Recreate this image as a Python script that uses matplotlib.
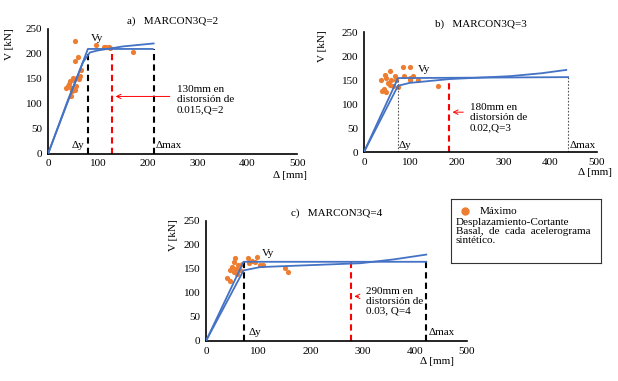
import matplotlib.pyplot as plt
from matplotlib.lines import Line2D

plt.rcParams['font.family'] = ['Liberation Serif', 'DejaVu Serif']
plt.rcParams['font.size'] = 8

BLUE = '#4472C4'
ORANGE = '#ED7D31'

# panel a) MARCON3Q=2
a_bil_x = [0, 80, 210]
a_bil_y = [0, 210, 210]
a_cur_x = [0, 40, 70, 84, 100, 150, 212]
a_cur_y = [0, 108, 183, 203, 207, 215, 221]
a_pts_x = [54, 97, 112, 117, 122, 125, 170, 60, 54, 67, 64, 58, 50, 44, 40, 47, 37, 54, 47, 57, 43, 52, 48, 62]
a_pts_y = [225, 217, 214, 213, 214, 212, 203, 193, 185, 168, 155, 152, 152, 145, 135, 132, 132, 128, 115, 135, 140, 148, 125, 150]
a_dy, a_dmax, a_red = 80, 212, 128

# panel b) MARCON3Q=3
b_bil_x = [0, 73, 438]
b_bil_y = [0, 154, 156]
b_cur_x = [0, 73, 98, 184, 313, 380, 434]
b_cur_y = [0, 138, 144, 152, 158, 164, 171]
b_pts_x = [55, 66, 48, 59, 37, 68, 52, 62, 42, 48, 39, 84, 99, 86, 98, 105, 116, 98, 159, 73, 55, 44]
b_pts_y = [169, 159, 154, 151, 151, 151, 144, 137, 131, 126, 128, 177, 177, 158, 154, 158, 151, 151, 138, 135, 140, 161]
b_dy, b_dmax, b_red = 73, 438, 182

# panel c) MARCON3Q=4
c_bil_x = [0, 72, 422]
c_bil_y = [0, 165, 165]
c_cur_x = [0, 72, 104, 200, 296, 360, 422]
c_cur_y = [0, 147, 154, 158, 162, 170, 180]
c_pts_x = [54, 49, 58, 46, 62, 53, 40, 46, 60, 65, 80, 94, 88, 83, 97, 110, 104, 152, 157, 69, 56]
c_pts_y = [165, 154, 151, 147, 158, 143, 132, 125, 140, 147, 172, 165, 167, 162, 176, 158, 158, 153, 144, 160, 172]
c_dy, c_dmax, c_red = 73, 422, 277

fig = plt.figure(figsize=(6.18, 3.81), dpi=100)


def panel(rect, title, bil_x, bil_y, cur_x, cur_y, pts_x, pts_y, dy, dmax, red,
          dline_top, red_top, note, note_xy, arrow_y, vy_xy, dy_x, dtxt_y, thin, ylab_x, xlab_x):
    ax = fig.add_axes(rect)
    ax.plot(bil_x, bil_y, color=BLUE, lw=1.3, zorder=3)
    ax.plot(cur_x, cur_y, color=BLUE, lw=1.3, zorder=3)
    ax.scatter(pts_x, pts_y, s=14, color=ORANGE, zorder=2, linewidths=0)
    if thin:
        ax.plot([dy, dy], [0, dline_top[0]], color='#555555', lw=0.8, ls=(0, (1.5, 1.5)))
        ax.plot([dmax, dmax], [0, dline_top[1]], color='#555555', lw=0.8, ls=(0, (1.5, 1.5)))
    else:
        ax.plot([dy, dy], [0, dline_top[0]], color='black', lw=1.5, ls=(0, (3, 2)))
        ax.plot([dmax, dmax], [0, dline_top[1]], color='black', lw=1.5, ls=(0, (3, 2)))
    ax.plot([red, red], [0, red_top], color='#FF0000', lw=1.5, ls=(0, (3, 2)))
    ax.annotate('', xy=(red + 2, arrow_y), xytext=(note_xy[0] - 8, arrow_y),
                arrowprops=dict(arrowstyle='->', color='#FF0000', lw=0.7))
    ax.text(note_xy[0], note_xy[1], note, va='center', ha='left', linespacing=1.15)
    ax.text(vy_xy[0], vy_xy[1], 'Vy', ha='left', va='center')
    ax.text(dy_x, dtxt_y, 'Δy', ha='left', va='center')
    ax.text(dmax + 4, dtxt_y, 'Δmax', ha='left', va='center')
    ax.set_xlim(0, 500)
    ax.set_ylim(0, 250)
    ax.set_xticks([0, 100, 200, 300, 400, 500])
    ax.set_yticks([0, 50, 100, 150, 200, 250])
    ax.tick_params(length=0, pad=4)
    for s in ['top', 'right']:
        ax.spines[s].set_visible(False)
    ax.spines['left'].set_linewidth(1.2)
    ax.spines['bottom'].set_linewidth(1.2)
    ax.set_title(title, fontsize=8, pad=4)
    ax.text(ylab_x, 0.88, 'V [kN]', rotation=90, transform=ax.transAxes, ha='center', va='center')
    ax.text(xlab_x, -0.17, 'Δ [mm]', transform=ax.transAxes, ha='center', va='center')
    return ax


axa = panel([0.0777, 0.596, 0.403, 0.328], 'a)   MARCON3Q=2', a_bil_x, a_bil_y, a_cur_x, a_cur_y,
            a_pts_x, a_pts_y, a_dy, a_dmax, a_red, (205, 210), 210,
            '130mm en\ndistorsión de\n0.015,Q=2', (258, 108), 115, (87, 231), 47, 16, False, -0.155, 0.97)

axb = panel([0.589, 0.601, 0.377, 0.315], 'b)   MARCON3Q=3', b_bil_x, b_bil_y, b_cur_x, b_cur_y,
            b_pts_x, b_pts_y, b_dy, b_dmax, b_red, (152, 156), 152,
            '180mm en\ndistorsión de\n0.02,Q=3', (227, 71), 83, (116, 171), 75, 14, True, -0.176, 0.99)

axc = panel([0.3333, 0.105, 0.4223, 0.315], 'c)   MARCON3Q=4', c_bil_x, c_bil_y, c_cur_x, c_cur_y,
            c_pts_x, c_pts_y, c_dy, c_dmax, c_red, (165, 165), 165,
            '290mm en\ndistorsión de\n0.03, Q=4', (306, 83), 93, (107, 182), 81, 17, False, -0.126, 0.885)

# legend box
lg = fig.add_axes([0.730, 0.310, 0.243, 0.168])
lg.set_xticks([])
lg.set_yticks([])
for s in lg.spines.values():
    s.set_linewidth(0.8)
    s.set_color('#333333')
lg.set_xlim(0, 1)
lg.set_ylim(0, 1)
lg.add_line(Line2D([0.093], [0.81], marker='o', color=ORANGE, markersize=5, ls='none'))
lg.text(0.19, 0.81, 'Máximo', va='center', ha='left')
lg.text(0.03, 0.625, 'Desplazamiento-Cortante', va='center', ha='left')
lg.text(0.03, 0.484, 'Basal,  de  cada  acelerograma', va='center', ha='left')
lg.text(0.03, 0.344, 'sintético.', va='center', ha='left')

fig.savefig('out.png', dpi=100)
